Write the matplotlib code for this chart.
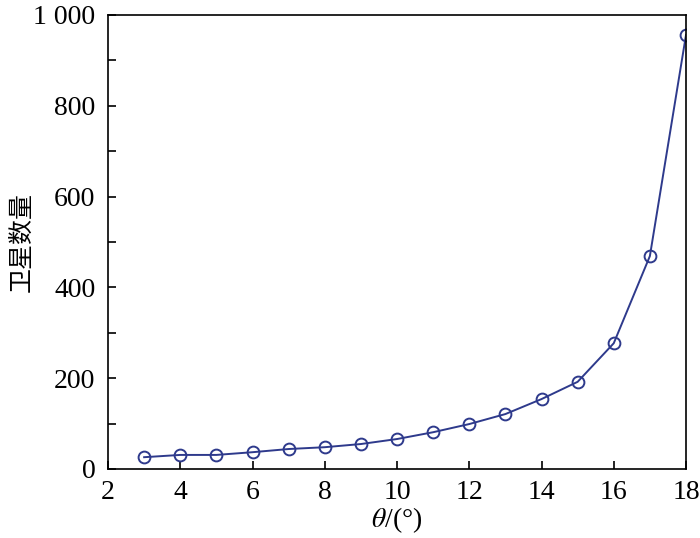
import numpy as np
import matplotlib.pyplot as plt
from matplotlib.ticker import MultipleLocator, FuncFormatter

# 数据
theta = [3, 4, 5, 6, 7, 8, 9, 10, 11, 12, 13, 14, 15, 16, 17, 18]
num_sat = [26, 31, 31, 37, 44, 48, 55, 66, 81, 99, 121, 154, 192, 277, 469, 956]

plt.rcParams['font.family'] = ['Liberation Serif', 'Noto Sans CJK SC']
plt.rcParams['mathtext.fontset'] = 'stix'

fig = plt.figure(figsize=(7, 5.38), dpi=100)
ax = fig.add_axes([108/700, 1 - 469/538, (686-108)/700, (469-15)/538])

color = '#2e3a8c'
ax.plot(theta, num_sat, '-o', color=color, lw=1.4, ms=8.5, mfc='none', mew=1.4)

ax.set_xlim(2, 18)
ax.set_ylim(0, 1000)
ax.xaxis.set_major_locator(MultipleLocator(2))
ax.yaxis.set_major_locator(MultipleLocator(100))

def yfmt(v, pos):
    v = int(round(v))
    if v % 200:
        return ''
    return '1 000' if v == 1000 else str(v)

ax.yaxis.set_major_formatter(FuncFormatter(yfmt))
ax.tick_params(direction='in', length=6, width=1.2, labelsize=20,
               top=False, right=False)
ax.tick_params(axis='y', pad=9)
ax.tick_params(axis='x', pad=8)
for s in ax.spines.values():
    s.set_linewidth(1.2)

ax.set_xlabel(r'$\theta$/(°)', fontsize=20, labelpad=0)
ax.set_ylabel('卫星数量', fontsize=18, family=['Noto Sans CJK SC'])
ax.yaxis.set_label_coords(-0.127, 0.5)

fig.savefig('out.png', dpi=100)
